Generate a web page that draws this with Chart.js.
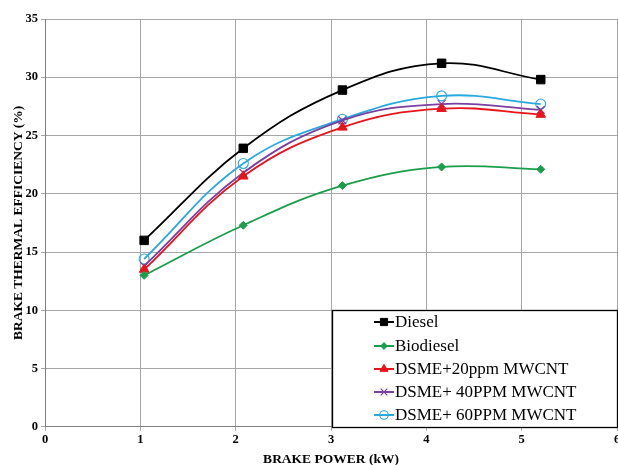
<!DOCTYPE html>
<html>
<head>
<meta charset="utf-8">
<script src="https://cdn.jsdelivr.net/npm/chart.js@4/dist/chart.umd.min.js"></script>
<style>
  html, body { margin: 0; padding: 0; background: #fff; overflow: hidden; }
  #wrap { position: relative; width: 618px; height: 465px; overflow: hidden; }
</style>
</head>
<body>
<div id="wrap"><canvas id="c" width="624" height="465"></canvas></div>
<script>
const brakePower = [1.04, 2.08, 3.12, 4.16, 5.2];
const diesel     = [16.0, 23.9, 28.9, 31.2, 29.8];
const biodiesel  = [13.0, 17.3, 20.7, 22.3, 22.1];
const dsme20     = [13.5, 21.5, 25.7, 27.3, 26.8];
const dsme40     = [13.8, 21.8, 26.3, 27.7, 27.2];
const dsme60     = [14.4, 22.6, 26.4, 28.4, 27.7];
const xTicks = [0, 1, 2, 3, 4, 5, 6];
const yTicks = [0, 5, 10, 15, 20, 25, 30, 35];
const seriesNames = ['Diesel', 'Biodiesel', 'DSME+20ppm MWCNT', 'DSME+ 40PPM MWCNT', 'DSME+ 60PPM MWCNT'];

const serif = "'Times New Roman', 'Liberation Serif', serif";

function pts(ys) { return brakePower.map((x, i) => ({ x: x, y: ys[i] })); }

const styles = [
  { color: '#000000', fill: '#000000', pointStyle: 'rect', radius: 6, bw: 1 },
  { color: '#1a9e4b', fill: '#1a9e4b', pointStyle: 'rectRot', radius: 4, bw: 1 },
  { color: '#e8141b', fill: '#e8141b', pointStyle: 'triangle', radius: 5.5, bw: 1 },
  { color: '#7a3fa0', fill: '#7a3fa0', pointStyle: 'crossRot', radius: 5.5, bw: 1.2 },
  { color: '#27a9e0', fill: 'rgba(255,255,255,0)', pointStyle: 'circle', radius: 5, bw: 1.1 }
];
const seriesData = [diesel, biodiesel, dsme20, dsme40, dsme60];

const datasets = seriesData.map((ys, i) => ({
  label: seriesNames[i],
  data: pts(ys),
  borderColor: styles[i].color,
  backgroundColor: styles[i].fill,
  pointBackgroundColor: styles[i].fill,
  pointBorderColor: styles[i].color,
  pointStyle: styles[i].pointStyle,
  pointRadius: styles[i].radius,
  pointBorderWidth: styles[i].bw,
  borderWidth: 1.8,
  tension: 0.4,
  fill: false
}));

const boxLegend = {
  id: 'boxLegend',
  afterDatasetsDraw(chart) {
    const ctx = chart.ctx;
    const xs = chart.scales.x, ca = chart.chartArea;
    const left = Math.round(xs.getPixelForValue(3)) + 1.5;
    const right = 617.5;
    const bottom = Math.round(ca.bottom) + 0.5;
    const top = 310.5;
    ctx.save();
    ctx.fillStyle = '#fff';
    ctx.fillRect(left, top, right - left, bottom - top);
    ctx.strokeStyle = '#000';
    ctx.lineWidth = 1.3;
    ctx.strokeRect(left, top, right - left, bottom - top);
    ctx.font = '17px ' + serif;
    ctx.textBaseline = 'middle';
    ctx.fillStyle = '#000';
    const rowY = [322, 346, 369, 392, 415];
    chart.data.datasets.forEach((ds, i) => {
      const y = rowY[i];
      ctx.strokeStyle = ds.borderColor;
      ctx.lineWidth = 2;
      ctx.beginPath();
      ctx.moveTo(374, y); ctx.lineTo(394, y); ctx.stroke();
      ctx.fillStyle = ds.pointBackgroundColor;
      ctx.strokeStyle = ds.pointBorderColor;
      ctx.lineWidth = ds.pointBorderWidth;
      Chart.helpers.drawPoint(ctx, {
        pointStyle: ds.pointStyle,
        radius: ds.pointRadius * 0.85,
        borderWidth: ds.pointBorderWidth,
        rotation: 0
      }, 384, y);
      ctx.fillStyle = '#000';
      ctx.fillText(ds.label, 395, y + 1);
    });
    ctx.restore();
  }
};

new Chart(document.getElementById('c'), {
  type: 'line',
  data: { datasets: datasets },
  plugins: [boxLegend],
  options: {
    responsive: false,
    animation: false,
    layout: { padding: { top: 19, right: 1, left: 10, bottom: 0 } },
    plugins: { legend: { display: false }, tooltip: { enabled: false } },
    scales: {
      x: {
        type: 'linear', min: 0, max: 6,
        afterBuildTicks(s) { s.ticks = xTicks.map(v => ({ value: v })); },
        grid: { color: '#a6a6a6', lineWidth: 1, tickLength: 4, drawTicks: true },
        border: { color: '#808080', width: 1 },
        ticks: { color: '#000', padding: 1, maxRotation: 0, font: { family: serif, size: 12.5, weight: 'bold' } },
        title: { display: true, text: 'BRAKE POWER (kW)', color: '#000', padding: { top: 4, bottom: -3 }, font: { family: serif, size: 13.5, weight: 'bold' } }
      },
      y: {
        min: 0, max: 35,
        afterBuildTicks(s) { s.ticks = yTicks.map(v => ({ value: v })); },
        afterFit(s) { s.width = 35; s.paddingTop = 0; s.paddingBottom = 0; },
        grid: { color: '#a6a6a6', lineWidth: 1, tickLength: 4 },
        border: { color: '#808080', width: 1 },
        ticks: { color: '#000', padding: 3, font: { family: serif, size: 12.5, weight: 'bold' } },
        title: { display: true, text: 'BRAKE THERMAL EFFICIENCY (%)', color: '#000', padding: { top: 0, bottom: 2 }, font: { family: serif, size: 13.5, weight: 'bold' } }
      }
    }
  }
});
</script>
</body>
</html>
